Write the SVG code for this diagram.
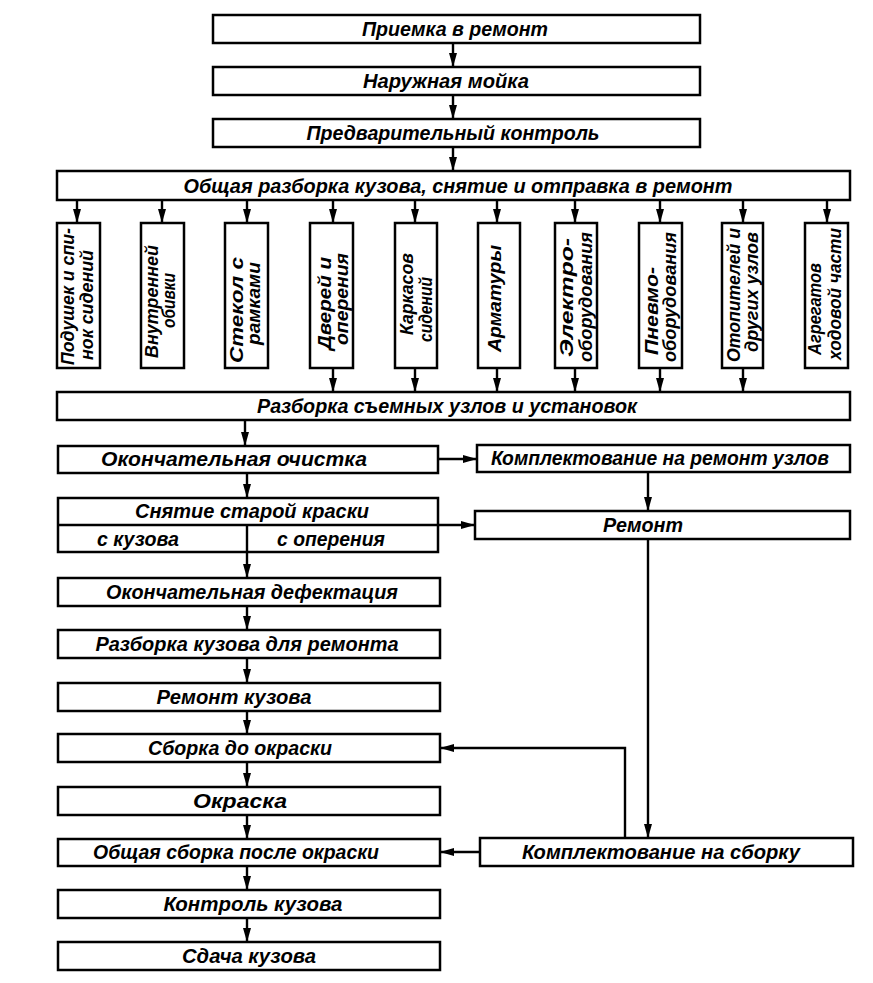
<svg xmlns="http://www.w3.org/2000/svg" width="873" height="983" viewBox="0 0 873 983">
<style>
.b{fill:#fff;stroke:#000;stroke-width:2.5}
.t{font-family:"Liberation Sans",Arial,sans-serif;font-style:italic;font-weight:bold;font-size:20px;text-anchor:middle;fill:#000}
.v{font-family:"Liberation Sans",Arial,sans-serif;font-style:italic;font-weight:bold;font-size:18px;fill:#000}
.c{fill:none;stroke:#000;stroke-width:2.4}
</style>
<defs>
<marker id="ar" markerUnits="userSpaceOnUse" markerWidth="15" markerHeight="9" refX="14" refY="4.5" orient="auto"><path d="M0,0.5 L14,4.5 L0,8.5 z" fill="#000"/></marker>
</defs>
<rect width="873" height="983" fill="#fff"/>
<g id="connectors">
<path class="c" marker-end="url(#ar)" d="M453,43 V67"/>
<path class="c" marker-end="url(#ar)" d="M453,95 V119"/>
<path class="c" marker-end="url(#ar)" d="M453,147 V171"/>
<path class="c" marker-end="url(#ar)" d="M77,200 V223"/>
<path class="c" marker-end="url(#ar)" d="M162,200 V223"/>
<path class="c" marker-end="url(#ar)" d="M247,200 V223"/>
<path class="c" marker-end="url(#ar)" d="M333,200 V223"/>
<path class="c" marker-end="url(#ar)" d="M415,200 V223"/>
<path class="c" marker-end="url(#ar)" d="M497,200 V223"/>
<path class="c" marker-end="url(#ar)" d="M575,200 V223"/>
<path class="c" marker-end="url(#ar)" d="M660,200 V223"/>
<path class="c" marker-end="url(#ar)" d="M743,200 V223"/>
<path class="c" marker-end="url(#ar)" d="M827,200 V223"/>
<path class="c" marker-end="url(#ar)" d="M333,368 V392"/>
<path class="c" marker-end="url(#ar)" d="M415,368 V392"/>
<path class="c" marker-end="url(#ar)" d="M497,368 V392"/>
<path class="c" marker-end="url(#ar)" d="M575,368 V392"/>
<path class="c" marker-end="url(#ar)" d="M660,368 V392"/>
<path class="c" marker-end="url(#ar)" d="M743,368 V392"/>
<path class="c" marker-end="url(#ar)" d="M245,420 V446"/>
<path class="c" marker-end="url(#ar)" d="M438,459 H477"/>
<path class="c" marker-end="url(#ar)" d="M247,473 V498"/>
<path class="c" marker-end="url(#ar)" d="M648,472 V511"/>
<path class="c" marker-end="url(#ar)" d="M438,525 H475"/>
<path class="c" marker-end="url(#ar)" d="M247,552 V578"/>
<path class="c" marker-end="url(#ar)" d="M247,606 V630"/>
<path class="c" marker-end="url(#ar)" d="M247,658 V683"/>
<path class="c" marker-end="url(#ar)" d="M247,711 V734"/>
<path class="c" marker-end="url(#ar)" d="M247,762 V787"/>
<path class="c" marker-end="url(#ar)" d="M247,815 V839"/>
<path class="c" marker-end="url(#ar)" d="M247,866 V890"/>
<path class="c" marker-end="url(#ar)" d="M247,918 V942"/>
<path class="c" marker-end="url(#ar)" d="M648,539 V838"/>
<path class="c" marker-end="url(#ar)" d="M625,838 V748 H440"/>
<path class="c" marker-end="url(#ar)" d="M480,852 H440"/>
</g>
<g id="n1"><rect class="b" x="213" y="15" width="487" height="28"/><text class="t" x="455" y="36" textLength="186" lengthAdjust="spacingAndGlyphs">Приемка в ремонт</text></g>
<g id="n2"><rect class="b" x="213" y="67" width="487" height="28"/><text class="t" x="446" y="88" textLength="166" lengthAdjust="spacingAndGlyphs">Наружная мойка</text></g>
<g id="n3"><rect class="b" x="213" y="119" width="487" height="28"/><text class="t" x="453" y="140" textLength="293" lengthAdjust="spacingAndGlyphs">Предварительный контроль</text></g>
<g id="n4"><rect class="b" x="57" y="171" width="793" height="29"/><text class="t" x="458" y="193" textLength="549" lengthAdjust="spacingAndGlyphs">Общая разборка кузова, снятие и отправка в ремонт</text></g>
<g id="v1"><rect class="b" x="57" y="223" width="43" height="145"/>
<text class="v" transform="translate(74,365) rotate(-90)" textLength="137" lengthAdjust="spacingAndGlyphs">Подушек и спи-</text>
<text class="v" transform="translate(93,360) rotate(-90)" textLength="110" lengthAdjust="spacingAndGlyphs">нок сидений</text></g>
<g id="v2"><rect class="b" x="141" y="223" width="43" height="145"/>
<text class="v" transform="translate(158,358) rotate(-90)" textLength="113" lengthAdjust="spacingAndGlyphs">Внутренней</text>
<text class="v" transform="translate(175,328) rotate(-90)" textLength="55" lengthAdjust="spacingAndGlyphs">обивки</text></g>
<g id="v3"><rect class="b" x="225" y="223" width="43" height="145"/>
<text class="v" transform="translate(243,363) rotate(-90)" textLength="106" lengthAdjust="spacingAndGlyphs">Стекол с</text>
<text class="v" transform="translate(260,345) rotate(-90)" textLength="83" lengthAdjust="spacingAndGlyphs">рамками</text></g>
<g id="v4"><rect class="b" x="310" y="223" width="43" height="145"/>
<text class="v" transform="translate(331,350) rotate(-90)" textLength="93" lengthAdjust="spacingAndGlyphs">Дверей и</text>
<text class="v" transform="translate(348,345) rotate(-90)" textLength="92" lengthAdjust="spacingAndGlyphs">оперения</text></g>
<g id="v5"><rect class="b" x="395" y="223" width="42" height="145"/>
<text class="v" transform="translate(413,335) rotate(-90)" textLength="82" lengthAdjust="spacingAndGlyphs">Каркасов</text>
<text class="v" transform="translate(432,342) rotate(-90)" textLength="65" lengthAdjust="spacingAndGlyphs">сидений</text></g>
<g id="v6"><rect class="b" x="478" y="223" width="42" height="145"/>
<text class="v" transform="translate(501,352) rotate(-90)" textLength="107" lengthAdjust="spacingAndGlyphs">Арматуры</text></g>
<g id="v7"><rect class="b" x="555" y="223" width="42" height="145"/>
<text class="v" transform="translate(573,357) rotate(-90)" textLength="119" lengthAdjust="spacingAndGlyphs">Электро-</text>
<text class="v" transform="translate(592,362) rotate(-90)" textLength="130" lengthAdjust="spacingAndGlyphs">оборудования</text></g>
<g id="v8"><rect class="b" x="639" y="223" width="43" height="145"/>
<text class="v" transform="translate(658,355) rotate(-90)" textLength="88" lengthAdjust="spacingAndGlyphs">Пневмо-</text>
<text class="v" transform="translate(676,362) rotate(-90)" textLength="130" lengthAdjust="spacingAndGlyphs">оборудования</text></g>
<g id="v9"><rect class="b" x="722" y="223" width="41" height="145"/>
<text class="v" transform="translate(740,362) rotate(-90)" textLength="134" lengthAdjust="spacingAndGlyphs">Отопителей и</text>
<text class="v" transform="translate(758,352) rotate(-90)" textLength="120" lengthAdjust="spacingAndGlyphs">других узлов</text></g>
<g id="v10"><rect class="b" x="805" y="223" width="43" height="145"/>
<text class="v" transform="translate(821,355) rotate(-90)" textLength="92" lengthAdjust="spacingAndGlyphs">Агрегатов</text>
<text class="v" transform="translate(841,360) rotate(-90)" textLength="132" lengthAdjust="spacingAndGlyphs">ходовой части</text></g>
<g id="n5"><rect class="b" x="57" y="392" width="793" height="28"/><text class="t" x="447" y="413" textLength="380" lengthAdjust="spacingAndGlyphs">Разборка съемных узлов и установок</text></g>
<g id="n6"><rect class="b" x="58" y="446" width="380" height="27"/><text class="t" x="234" y="466" textLength="266" lengthAdjust="spacingAndGlyphs">Окончательная очистка</text></g>
<g id="n7"><rect class="b" x="477" y="445" width="373" height="27"/><text class="t" x="660" y="465" textLength="338" lengthAdjust="spacingAndGlyphs">Комплектование на ремонт узлов</text></g>
<g id="n8"><rect class="b" x="58" y="498" width="380" height="54"/>
<path class="c" d="M58,525 H438 M247,525 V552"/>
<text class="t" x="252" y="518" textLength="234" lengthAdjust="spacingAndGlyphs">Снятие старой краски</text>
<text class="t" x="138" y="546" textLength="82" lengthAdjust="spacingAndGlyphs">с кузова</text>
<text class="t" x="331" y="546" textLength="108" lengthAdjust="spacingAndGlyphs">с оперения</text></g>
<g id="n9"><rect class="b" x="475" y="511" width="375" height="28"/><text class="t" x="643" y="532" textLength="80" lengthAdjust="spacingAndGlyphs">Ремонт</text></g>
<g id="n10"><rect class="b" x="58" y="578" width="382" height="28"/><text class="t" x="252" y="599" textLength="292" lengthAdjust="spacingAndGlyphs">Окончательная дефектация</text></g>
<g id="n11"><rect class="b" x="58" y="630" width="382" height="28"/><text class="t" x="247" y="651" textLength="303" lengthAdjust="spacingAndGlyphs">Разборка кузова для ремонта</text></g>
<g id="n12"><rect class="b" x="58" y="683" width="382" height="28"/><text class="t" x="234" y="704" textLength="155" lengthAdjust="spacingAndGlyphs">Ремонт кузова</text></g>
<g id="n13"><rect class="b" x="58" y="734" width="382" height="28"/><text class="t" x="240" y="755" textLength="184" lengthAdjust="spacingAndGlyphs">Сборка до окраски</text></g>
<g id="n14"><rect class="b" x="58" y="787" width="382" height="28"/><text class="t" x="240" y="808" textLength="94" lengthAdjust="spacingAndGlyphs">Окраска</text></g>
<g id="n15"><rect class="b" x="58" y="839" width="382" height="27"/><text class="t" x="236" y="859" textLength="286" lengthAdjust="spacingAndGlyphs">Общая сборка после окраски</text></g>
<g id="n16"><rect class="b" x="480" y="838" width="373" height="28"/><text class="t" x="661" y="859" textLength="278" lengthAdjust="spacingAndGlyphs">Комплектование на сборку</text></g>
<g id="n17"><rect class="b" x="58" y="890" width="382" height="28"/><text class="t" x="253" y="911" textLength="179" lengthAdjust="spacingAndGlyphs">Контроль кузова</text></g>
<g id="n18"><rect class="b" x="58" y="942" width="382" height="28"/><text class="t" x="249" y="963" textLength="134" lengthAdjust="spacingAndGlyphs">Сдача кузова</text></g>
</svg>
